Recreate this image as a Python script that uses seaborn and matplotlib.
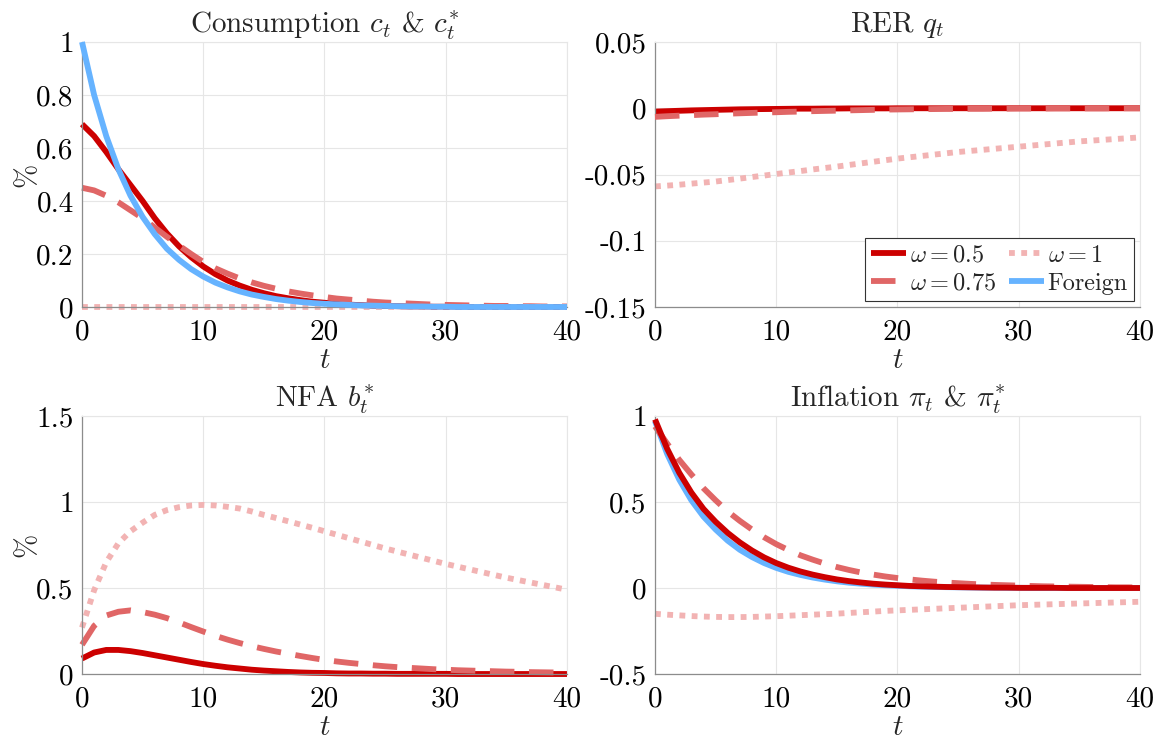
import matplotlib
matplotlib.use('Agg')
import matplotlib.pyplot as plt
import seaborn as sns

# ── Data ──────────────────────────────────────────────────────────────────────

T = list(range(41))

CONS_W05 = [0.69, 0.645, 0.585, 0.52, 0.46, 0.40, 0.335, 0.278, 0.229, 0.188,
            0.153, 0.124, 0.100, 0.081, 0.065, 0.052, 0.041, 0.033, 0.026, 0.020,
            0.016, 0.012, 0.009, 0.007, 0.005, 0.004, 0.003, 0.002, 0.002, 0.001,
            0.001, 0.001, 0.0, 0.0, 0.0, 0.0, 0.0, 0.0, 0.0, 0.0, 0.0]
CONS_W075 = [0.45, 0.44, 0.42, 0.395, 0.365, 0.335, 0.30, 0.265, 0.232, 0.20,
             0.17, 0.146, 0.126, 0.108, 0.093, 0.08, 0.069, 0.059, 0.051, 0.044,
             0.038, 0.032, 0.028, 0.024, 0.02, 0.017, 0.015, 0.013, 0.011, 0.009,
             0.008, 0.007, 0.006, 0.005, 0.004, 0.004, 0.003, 0.003, 0.002, 0.002,
             0.002]
CONS_W1 = [0.0, 0.0, 0.0, 0.0, 0.0, 0.0, 0.0, 0.0, 0.0, 0.0,
           0.0, 0.0, 0.0, 0.0, 0.0, 0.0, 0.0, 0.0, 0.0, 0.0,
           0.0, 0.0, 0.0, 0.0, 0.0, 0.0, 0.0, 0.0, 0.0, 0.0,
           0.0, 0.0, 0.0, 0.0, 0.0, 0.0, 0.0, 0.0, 0.0, 0.0, 0.0]
CONS_FOREIGN = [1.0, 0.80, 0.645, 0.52, 0.42, 0.34, 0.275, 0.22, 0.178, 0.143,
                0.115, 0.092, 0.074, 0.059, 0.047, 0.038, 0.030, 0.024, 0.019, 0.015,
                0.012, 0.010, 0.008, 0.006, 0.005, 0.004, 0.003, 0.002, 0.002, 0.001,
                0.001, 0.0, 0.0, 0.0, 0.0, 0.0, 0.0, 0.0, 0.0, 0.0, 0.0]

RER_W05 = [-0.0025, -0.0022, -0.0019, -0.0016, -0.0014, -0.0012, -0.0010, -0.0008, -0.0007, -0.0006,
           -0.0005, -0.0004, -0.0003, -0.0003, -0.0002, -0.0002, -0.0001, -0.0001, -0.0001, -0.0001,
           0.0, 0.0, 0.0, 0.0, 0.0, 0.0, 0.0, 0.0, 0.0, 0.0,
           0.0, 0.0, 0.0, 0.0, 0.0, 0.0, 0.0, 0.0, 0.0, 0.0, 0.0]
RER_W075 = [-0.0065, -0.0060, -0.0056, -0.0052, -0.0048, -0.0045, -0.0041, -0.0038, -0.0035, -0.0032,
            -0.0030, -0.0027, -0.0025, -0.0022, -0.0020, -0.0018, -0.0016, -0.0014, -0.0012, -0.0010,
            -0.0009, -0.0008, -0.0007, -0.0006, -0.0005, -0.0005, -0.0004, -0.0004, -0.0003, -0.0003,
            -0.0002, -0.0002, -0.0002, -0.0001, -0.0001, -0.0001, -0.0001, -0.0001, 0.0, 0.0, 0.0]
RER_W1 = [-0.0590, -0.0584, -0.0577, -0.0569, -0.0561, -0.0553, -0.0542, -0.0531, -0.0519, -0.0508,
          -0.0496, -0.0485, -0.0474, -0.0462, -0.0451, -0.0440, -0.0428, -0.0416, -0.0404, -0.0392,
          -0.0380, -0.0370, -0.0360, -0.0350, -0.0340, -0.0330, -0.0322, -0.0314, -0.0306, -0.0298,
          -0.0290, -0.0282, -0.0274, -0.0266, -0.0258, -0.0250, -0.0244, -0.0238, -0.0232, -0.0226,
          -0.0220]

NFA_W05 = [0.09, 0.125, 0.14, 0.14, 0.133, 0.122, 0.109, 0.096, 0.083, 0.070,
           0.058, 0.048, 0.039, 0.032, 0.025, 0.020, 0.016, 0.012, 0.009, 0.007,
           0.006, 0.004, 0.003, 0.003, 0.002, 0.002, 0.001, 0.001, 0.001, 0.001,
           0.001, 0.0, 0.0, 0.0, 0.0, 0.0, 0.0, 0.0, 0.0, 0.0, 0.0]
NFA_W075 = [0.17, 0.28, 0.34, 0.362, 0.37, 0.36, 0.345, 0.325, 0.30, 0.273,
            0.247, 0.222, 0.20, 0.18, 0.162, 0.146, 0.131, 0.118, 0.105, 0.093,
            0.082, 0.073, 0.065, 0.058, 0.051, 0.045, 0.040, 0.036, 0.032, 0.028,
            0.025, 0.022, 0.020, 0.018, 0.016, 0.014, 0.013, 0.011, 0.010, 0.009,
            0.008]
NFA_W1 = [0.27, 0.487, 0.65, 0.76, 0.83, 0.88, 0.925, 0.953, 0.97, 0.98,
          0.983, 0.98, 0.972, 0.962, 0.945, 0.925, 0.907, 0.888, 0.869, 0.85,
          0.83, 0.81, 0.79, 0.77, 0.75, 0.73, 0.712, 0.694, 0.676, 0.658,
          0.64, 0.624, 0.608, 0.592, 0.576, 0.56, 0.546, 0.532, 0.518, 0.504,
          0.49]

INF_W05 = [0.98, 0.81, 0.67, 0.555, 0.46, 0.385, 0.32, 0.265, 0.218, 0.178,
           0.145, 0.118, 0.096, 0.078, 0.063, 0.050, 0.040, 0.032, 0.025, 0.020,
           0.016, 0.012, 0.010, 0.008, 0.006, 0.005, 0.004, 0.003, 0.002, 0.002,
           0.001, 0.001, 0.001, 0.001, 0.0, 0.0, 0.0, 0.0, 0.0, 0.0, 0.0]
INF_W075 = [0.94, 0.84, 0.745, 0.66, 0.58, 0.51, 0.445, 0.39, 0.34, 0.295,
            0.255, 0.221, 0.19, 0.165, 0.142, 0.122, 0.105, 0.090, 0.078, 0.067,
            0.058, 0.050, 0.043, 0.037, 0.032, 0.028, 0.024, 0.021, 0.018, 0.016,
            0.014, 0.012, 0.010, 0.009, 0.008, 0.007, 0.006, 0.005, 0.004, 0.004,
            0.003]
INF_W1 = [-0.150, -0.155, -0.159, -0.163, -0.166, -0.168, -0.169, -0.169, -0.168, -0.166,
          -0.164, -0.161, -0.158, -0.155, -0.152, -0.149, -0.145, -0.141, -0.137, -0.133,
          -0.130, -0.127, -0.124, -0.121, -0.118, -0.115, -0.112, -0.109, -0.106, -0.103,
          -0.100, -0.098, -0.096, -0.094, -0.092, -0.090, -0.088, -0.086, -0.084, -0.082,
          -0.080]
INF_FOREIGN = [0.97, 0.78, 0.63, 0.51, 0.415, 0.34, 0.275, 0.222, 0.18, 0.145,
               0.117, 0.094, 0.076, 0.061, 0.049, 0.039, 0.031, 0.025, 0.020, 0.016,
               0.013, 0.010, 0.008, 0.006, 0.005, 0.004, 0.003, 0.002, 0.002, 0.001,
               0.001, 0.0, 0.0, 0.0, 0.0, 0.0, 0.0, 0.0, 0.0, 0.0, 0.0]

X_TICKS = [0, 10, 20, 30, 40]
CONS_TICKS = [0, 0.2, 0.4, 0.6, 0.8, 1]
CONS_LABELS = ['0', '0.2', '0.4', '0.6', '0.8', '1']
RER_TICKS = [-0.15, -0.1, -0.05, 0, 0.05]
RER_LABELS = ['-0.15', '-0.1', '-0.05', '0', '0.05']
NFA_TICKS = [0, 0.5, 1, 1.5]
NFA_LABELS = ['0', '0.5', '1', '1.5']
INF_TICKS = [-0.5, 0, 0.5, 1]
INF_LABELS = ['-0.5', '0', '0.5', '1']

# ── Style ─────────────────────────────────────────────────────────────────────

C_W05 = '#CC0000'
C_W075 = '#E06666'
C_W1 = '#F2B3B3'
C_FOREIGN = '#66B3FF'

LW = 4.2
STYLES = {
    'w05': dict(color=C_W05, linewidth=LW, linestyle='-', label=r'$\omega=0.5$'),
    'w075': dict(color=C_W075, linewidth=LW, linestyle=(0, (4.2, 2.5)), label=r'$\omega=0.75$'),
    'w1': dict(color=C_W1, linewidth=LW, linestyle=(0, (1.0, 1.1)), label=r'$\omega=1$'),
    'foreign': dict(color=C_FOREIGN, linewidth=LW, linestyle='-', label='Foreign'),
}

sns.set_style('white')
plt.rcParams['font.family'] = ['serif']
plt.rcParams['font.serif'] = ['cmr10', 'DejaVu Serif']
plt.rcParams['mathtext.fontset'] = 'cm'
plt.rcParams['axes.unicode_minus'] = False
plt.rcParams['lines.solid_capstyle'] = 'butt'
plt.rcParams['lines.dash_capstyle'] = 'butt'

FS = 21


def draw(ax, key, values, zorder=2):
    sns.lineplot(x=T, y=values, ax=ax, legend=False, zorder=zorder,
                 clip_on=False, **STYLES[key])


def style_axes(ax, title, yticks, ylabels, ylim, ylabel=None):
    ax.set_xlim(0, 40)
    ax.set_ylim(*ylim)
    ax.set_xticks(X_TICKS)
    ax.set_xticklabels([str(x) for x in X_TICKS])
    ax.set_yticks(yticks)
    ax.set_yticklabels(ylabels)
    ax.grid(True, color='#e6e6e6', linewidth=0.8, zorder=0)
    ax.set_axisbelow(True)
    for side in ['top', 'right']:
        ax.spines[side].set_color('#e6e6e6')
        ax.spines[side].set_linewidth(0.8)
    for side in ['left', 'bottom']:
        ax.spines[side].set_color('#8c8c8c')
        ax.spines[side].set_linewidth(0.9)
    ax.tick_params(direction='in', length=4, width=0.8, color='#8c8c8c',
                   labelsize=FS, labelcolor='black')
    ax.tick_params(axis='x', pad=9)
    ax.tick_params(axis='y', pad=6)
    ax.set_title(title, fontsize=FS, pad=7)
    ax.set_xlabel('$t$', fontsize=FS, labelpad=1)
    if ylabel:
        ax.set_ylabel(ylabel, fontsize=FS, labelpad=-3)
    else:
        ax.set_ylabel('')


fig = plt.figure(figsize=(11.55, 7.41), dpi=100)
ax_c = fig.add_axes([0.0710, 0.5857, 0.4199, 0.3576])
ax_q = fig.add_axes([0.5671, 0.5857, 0.4199, 0.3576])
ax_b = fig.add_axes([0.0710, 0.0904, 0.4199, 0.3482])
ax_p = fig.add_axes([0.5671, 0.0904, 0.4199, 0.3482])

# Consumption
draw(ax_c, 'w05', CONS_W05)
draw(ax_c, 'w075', CONS_W075)
draw(ax_c, 'w1', CONS_W1)
draw(ax_c, 'foreign', CONS_FOREIGN, zorder=3)
style_axes(ax_c, r'Consumption $c_t$ & $c_t^{*}$', CONS_TICKS, CONS_LABELS, (0, 1), '%')

# RER
draw(ax_q, 'w1', RER_W1)
draw(ax_q, 'w075', RER_W075, zorder=3)
draw(ax_q, 'w05', RER_W05)
style_axes(ax_q, r'RER $q_t$', RER_TICKS, RER_LABELS, (-0.15, 0.05))

# NFA
draw(ax_b, 'w05', NFA_W05)
draw(ax_b, 'w075', NFA_W075)
draw(ax_b, 'w1', NFA_W1)
style_axes(ax_b, r'NFA $b_t^{*}$', NFA_TICKS, NFA_LABELS, (0, 1.5), '%')

# Inflation
draw(ax_p, 'foreign', INF_FOREIGN)
draw(ax_p, 'w075', INF_W075)
draw(ax_p, 'w1', INF_W1)
draw(ax_p, 'w05', INF_W05, zorder=3)
style_axes(ax_p, r'Inflation $\pi_t$ & $\pi_t^{*}$', INF_TICKS, INF_LABELS, (-0.5, 1))

# Legend (shared, sits in the RER panel)
handles, labels = ax_c.get_legend_handles_labels()
leg = ax_q.legend(handles, labels, loc='lower right', ncol=2, fontsize=17.5,
                  frameon=True, fancybox=False, framealpha=1, edgecolor='#333333',
                  handlelength=1.45, handletextpad=0.15, columnspacing=0.5,
                  borderpad=0.25, labelspacing=0.25, borderaxespad=0.25)
leg.get_frame().set_linewidth(0.8)
leg.set_zorder(10)

fig.savefig('out.png', dpi=100)
